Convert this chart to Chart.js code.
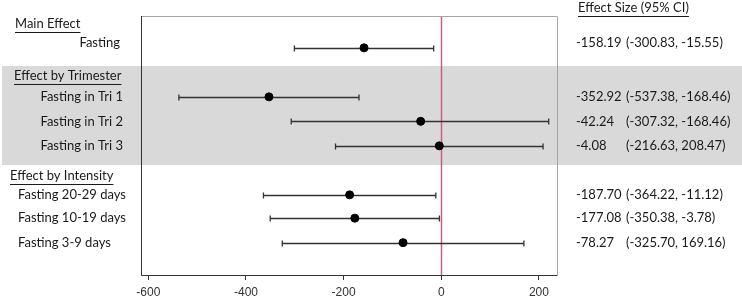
<!DOCTYPE html>
<html>
<head>
<meta charset="utf-8">
<script src="https://cdn.jsdelivr.net/npm/chart.js@4.4.0/dist/chart.umd.min.js"></script>
<style>
  body { margin: 0; background: #fff; }
  canvas { display: block; }
</style>
</head>
<body>
<canvas id="forest" width="742" height="297"></canvas>
<script>
// righe del forest plot
var rowLabels = ['Fasting', 'Fasting in Tri 1', 'Fasting in Tri 2', 'Fasting in Tri 3',
                 'Fasting 20-29 days', 'Fasting 10-19 days', 'Fasting 3-9 days'];
var rowPos = [1.3, 3.3, 4.3, 5.3, 7.3, 8.25, 9.25];
var estimates = [-158.19, -352.92, -42.24, -4.08, -187.70, -177.08, -78.27];
var lower = [-300.83, -537.38, -307.32, -216.63, -364.22, -350.38, -325.70];
// Tri 2: the whisker in the picture ends near +220 (the printed text says -168.46)
var upper = [-15.55, -168.46, 220, 208.47, -11.12, -3.78, 169.16];
var estText = ['-158.19', '-352.92', '-42.24', '-4.08', '-187.70', '-177.08', '-78.27'];
var ciText = ['(-300.83, -15.55)', '(-537.38, -168.46)', '(-307.32, -168.46)', '(-216.63, 208.47)',
              '(-364.22, -11.12)', '(-350.38, -3.78)', '(-325.70, 169.16)'];
var headers = ['Main Effect', 'Effect by Trimester', 'Effect by Intensity'];
var headerPos = [0.33, 2.45, 6.52];
var xTicks = [-600, -400, -200, 0, 200];

var font = '13px Lato, "Open Sans", sans-serif';

var points = estimates.map(function (v, i) { return { x: v, y: rowPos[i] }; });

// sfondo grigio, linea dello zero e barre di errore
var forestPlugin = {
  id: 'forest',
  beforeDraw: function (chart) {
    var c = chart.ctx, y = chart.scales.y;
    c.save();
    c.fillStyle = '#d9d9d9';
    var t = y.getPixelForValue(2.04), b = y.getPixelForValue(6.08);
    c.fillRect(2, t, chart.width - 2, b - t);
    c.restore();
  },
  beforeDatasetsDraw: function (chart) {
    var c = chart.ctx, x = chart.scales.x, y = chart.scales.y, a = chart.chartArea;
    c.save();
    // linea dello zero
    c.strokeStyle = '#c9607c';
    c.lineWidth = 1.5;
    var z = Math.round(x.getPixelForValue(0)) + 0.5;
    c.beginPath(); c.moveTo(z, a.top); c.lineTo(z, a.bottom); c.stroke();
    // barre di errore
    c.strokeStyle = '#333';
    c.lineWidth = 1.3;
    for (var i = 0; i < rowPos.length; i++) {
      var py = Math.round(y.getPixelForValue(rowPos[i])) + 0.5;
      var x1 = x.getPixelForValue(lower[i]), x2 = x.getPixelForValue(upper[i]);
      c.beginPath();
      c.moveTo(x1, py); c.lineTo(x2, py);
      c.moveTo(x1, py - 3); c.lineTo(x1, py + 3);
      c.moveTo(x2, py - 3); c.lineTo(x2, py + 3);
      c.stroke();
    }
    c.restore();
  },
  afterDraw: function (chart) {
    var c = chart.ctx, y = chart.scales.y, a = chart.chartArea;
    c.save();
    // cornice
    c.lineWidth = 1;
    c.strokeStyle = '#a6a6a6';
    c.beginPath();
    c.moveTo(a.left, a.top + 0.5); c.lineTo(a.right + 0.5, a.top + 0.5); c.lineTo(a.right + 0.5, a.bottom);
    c.stroke();
    c.strokeStyle = '#333';
    c.beginPath();
    c.moveTo(a.left + 0.5, a.top); c.lineTo(a.left + 0.5, a.bottom + 0.5); c.lineTo(a.right + 0.5, a.bottom + 0.5);
    c.stroke();

    c.font = font;
    c.fillStyle = '#1a1a1a';
    c.textBaseline = 'middle';
    // intestazioni sottolineate
    var headX = [15, 14, 10];
    function underlined(txt, hx, hy) {
      c.textAlign = 'left';
      c.fillText(txt, hx, hy);
      var w = c.measureText(txt).width;
      c.fillRect(hx, Math.round(hy + 8), w, 1);
    }
    for (var h = 0; h < headers.length; h++) {
      underlined(headers[h], headX[h], y.getPixelForValue(headerPos[h]));
    }
    underlined('Effect Size (95% CI)', 578, y.getPixelForValue(-0.33));

    // etichette delle righe
    for (var i = 0; i < rowLabels.length; i++) {
      var py = y.getPixelForValue(rowPos[i]);
      var ty = i === 0 ? py - 5 : py;
      if (i === 0) {
        c.textAlign = 'right'; c.fillText(rowLabels[i], 120, ty);
      } else if (i < 4) {
        c.textAlign = 'right'; c.fillText(rowLabels[i], 123, ty);
      } else {
        c.textAlign = 'left'; c.fillText(rowLabels[i], 18, ty);
      }
      c.textAlign = 'left';
      c.fillText(estText[i], 576, ty);
      c.fillText(ciText[i], 626, ty);
    }
    c.restore();
  }
};

var forestChart = new Chart(document.getElementById('forest').getContext('2d'), {
  type: 'scatter',
  data: {
    datasets: [{
      data: points,
      backgroundColor: '#000',
      borderColor: '#000',
      pointRadius: 4,
      pointHoverRadius: 4
    }]
  },
  options: {
    responsive: false,
    animation: false,
    events: [],
    layout: { padding: { left: 141, right: 185, top: 16, bottom: 0 } },
    plugins: { legend: { display: false }, tooltip: { enabled: false } },
    scales: {
      x: {
        type: 'linear',
        min: -615,
        max: 237,
        afterBuildTicks: function (axis) {
          axis.ticks = xTicks.map(function (v) { return { value: v }; });
        },
        afterFit: function (axis) { axis.height = 22; },
        grid: { drawOnChartArea: false, color: '#333', tickLength: 5 },
        border: { display: false },
        ticks: { color: '#333', padding: 5, maxRotation: 0,
                 font: { family: '"Liberation Sans", Arial, sans-serif', size: 12 } }
      },
      y: {
        type: 'linear',
        display: false,
        reverse: true,
        min: 0,
        max: 10.57
      }
    }
  },
  plugins: [forestPlugin]
});
</script>
</body>
</html>
